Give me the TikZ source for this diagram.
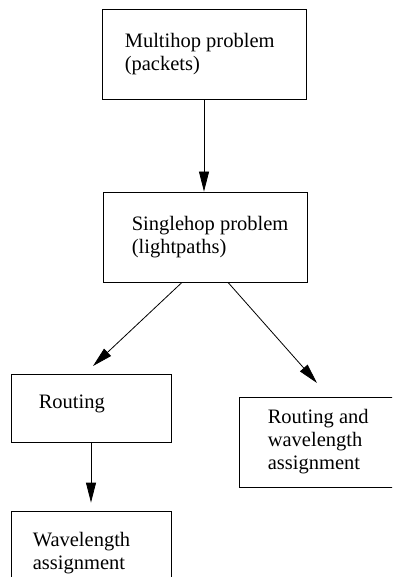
\documentclass[tikz,border=0pt]{standalone}
\usepackage{fontspec}
\setmainfont{Liberation Serif}
\usetikzlibrary{positioning,arrows.meta}

\begin{document}
\begin{tikzpicture}[x=1pt, y=-1pt, >={Triangle[length=20pt,width=10pt]},
  box/.style={rectangle, draw, line width=0.8pt},
  txt/.style={align=left, inner sep=0pt, font=\fontsize{20.5pt}{23pt}\selectfont}]
  \clip (0,0) rectangle (392,577);

  % Nodes
  \node[box, minimum width=204pt, minimum height=90pt] (multihop) at (204,54) {};
  \node[txt, right=23pt of multihop.west] (multihoptext) {Multihop problem\\(packets)};

  \node[box, minimum width=204pt, minimum height=90pt] (singlehop) at (205,237) {};
  \node[txt, right=29pt of singlehop.west] (singlehoptext) {Singlehop problem\\(lightpaths)};

  \node[box, minimum width=160pt, minimum height=68pt] (routing) at (91,408) {};
  \node[txt, right=28pt of routing.west, yshift=4pt] (routingtext) {Routing};

  \node[box, minimum width=170pt, minimum height=90pt] (rwa) at (324,442) {};
  \node[txt, right=29pt of rwa.west] (rwatext) {Routing and\\wavelength\\assignment};

  \node[box, minimum width=160pt, minimum height=84pt] (wavelength) at (91,553) {};
  \node[txt, right=22pt of wavelength.west] (wavelengthtext) {Wavelength\\assignment};

  \coordinate (routingtip) at (93,366);
  \coordinate (rwatip) at (317,383);

  % Arrows
  \draw[->, line width=0.8pt] (multihop.south) -- (multihop.south |- singlehop.north);
  \draw[->, line width=0.8pt] ([xshift=-23pt]singlehop.south) -- (routingtip);
  \draw[->, line width=0.8pt] ([xshift=23pt]singlehop.south) -- (rwatip);
  \draw[->, line width=0.8pt, shorten >=8pt] (routing.south) -- (wavelength.north);
\end{tikzpicture}
\end{document}
